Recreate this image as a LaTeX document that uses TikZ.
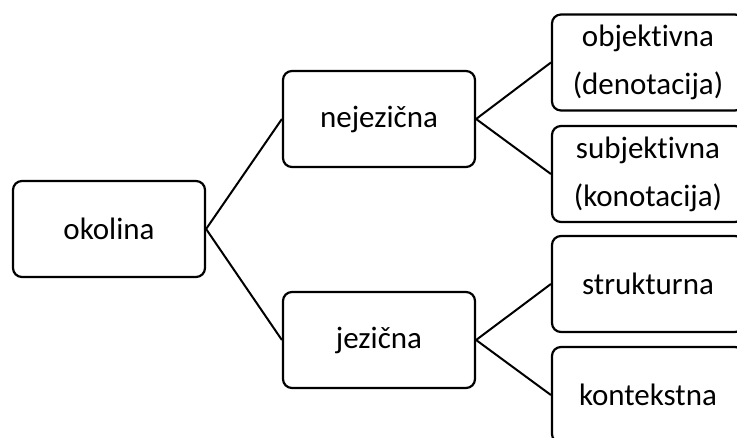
\documentclass[tikz,border=0pt]{standalone}
\usepackage{fontspec}
\setmainfont{Carlito}[Ligatures=NoCommon]
\begin{document}
\begin{tikzpicture}[x=1pt,y=-1pt,
  box/.style={draw=black, line width=2.2pt, rounded corners=9pt, minimum width=192pt, minimum height=96pt, inner sep=0pt, align=center, font=\fontsize{31}{48}\selectfont, fill=white},
  link/.style={draw=black, line width=2pt}]
\clip (0,0) rectangle (737,437);
\fill[white] (0,0) rectangle (737,437);
\node[box] (ok) at (109,229) {okolina};
\node[box] (ne) at (379,119) {nejezična};
\node[box] (je) at (379,340) {jezična};
\node[box] (r1) at (648,62.5) {objektivna\\(denotacija)};
\node[box] (r2) at (648,174) {subjektivna\\(konotacija)};
\node[box] (r3) at (648,284) {strukturna};
\node[box] (r4) at (648,395) {kontekstna};
\draw[link] (ok.east) -- (ne.west);
\draw[link] (ok.east) -- (je.west);
\draw[link] (ne.east) -- (r1.west);
\draw[link] (ne.east) -- (r2.west);
\draw[link] (je.east) -- (r3.west);
\draw[link] (je.east) -- (r4.west);
\end{tikzpicture}
\end{document}
